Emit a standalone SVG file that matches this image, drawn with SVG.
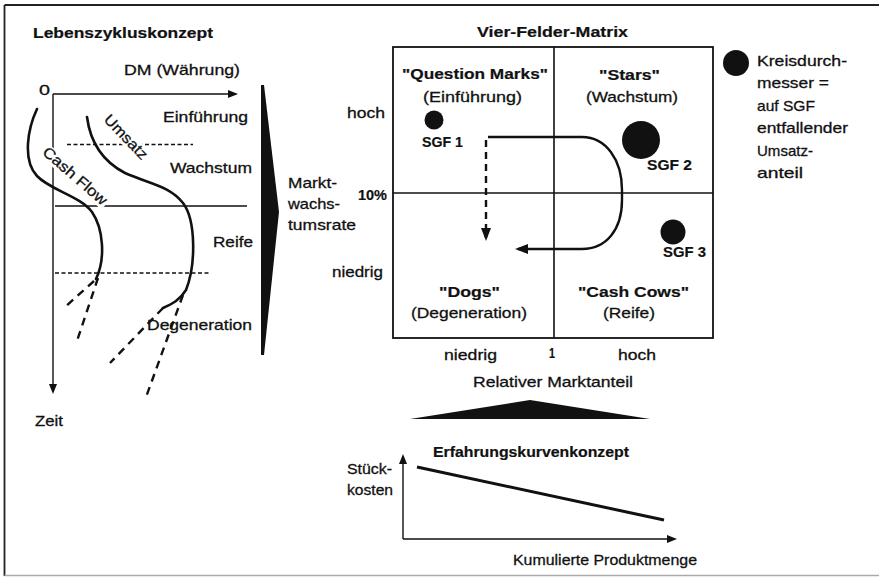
<svg xmlns="http://www.w3.org/2000/svg" width="879" height="578" viewBox="0 0 879 578">
<defs>
<style>
text{font-family:"Liberation Sans",Arial,Helvetica,sans-serif;font-size:15px;fill:#111;stroke:#111;stroke-width:0.3}
.b{font-weight:bold;stroke-width:0.2}
.ln{stroke:#111;fill:none;stroke-width:1.4}
.thin{stroke:#111;fill:none;stroke-width:1.3;stroke-dasharray:4 2.5}
.curve{stroke:#111;fill:none;stroke-width:2.6;stroke-linecap:round}
.ext{stroke:#111;fill:none;stroke-width:2.4;stroke-dasharray:8 6}
.mask{fill:#fff}
.dot{fill:#111}
</style>
<marker id="ah" markerUnits="userSpaceOnUse" markerWidth="10" markerHeight="8" refX="8" refY="4" orient="auto" viewBox="0 0 10 8">
<path d="M0,0 L10,4 L0,8 z" fill="#111"/>
</marker>
<marker id="ahL" markerUnits="userSpaceOnUse" markerWidth="13" markerHeight="10" refX="10" refY="5" orient="auto" viewBox="0 0 13 10">
<path d="M0,0 L13,5 L0,10 z" fill="#111"/>
</marker>
</defs>
<rect width="879" height="578" fill="#fff"/>
<g id="frame">
<line x1="4.5" y1="5" x2="879" y2="5" stroke="#222" stroke-width="1.8"/>
<line x1="4.5" y1="5" x2="4.5" y2="576" stroke="#222" stroke-width="1.8"/>
<line x1="4.5" y1="575.5" x2="879" y2="575.5" stroke="#aaa" stroke-width="1.4"/>
</g>

<g id="lebenszyklus">
<text class="b" x="33" y="38" textLength="180" lengthAdjust="spacingAndGlyphs">Lebenszykluskonzept</text>
<text x="124" y="75" textLength="116" lengthAdjust="spacingAndGlyphs">DM (Währung)</text>
<text x="39" y="95" textLength="11" lengthAdjust="spacingAndGlyphs">0</text>
<path class="ln" d="M53,94 H236" marker-end="url(#ah)"/>
<path class="ln" d="M53,94 V392" marker-end="url(#ah)"/>
<path class="thin" d="M67,144.5 H193"/>
<path class="ln" d="M55,206 H247"/>
<path class="thin" d="M55,273 H210"/>
<text x="163" y="122" textLength="85" lengthAdjust="spacingAndGlyphs">Einführung</text>
<text x="170" y="173" textLength="82" lengthAdjust="spacingAndGlyphs">Wachstum</text>
<text x="213" y="247" textLength="40" lengthAdjust="spacingAndGlyphs">Reife</text>
<text x="147" y="330" textLength="105" lengthAdjust="spacingAndGlyphs">Degeneration</text>
<text x="35" y="426" textLength="28" lengthAdjust="spacingAndGlyphs">Zeit</text>
<g transform="translate(126,137) rotate(46)">
<rect class="mask" x="-30" y="-7" width="60" height="15"/>
<text x="0" y="5" text-anchor="middle" textLength="56" lengthAdjust="spacingAndGlyphs">Umsatz</text>
</g>
<g transform="translate(75,176) rotate(41)">
<rect class="mask" x="-42" y="-7" width="84" height="15"/>
<text x="0" y="5" text-anchor="middle" textLength="80" lengthAdjust="spacingAndGlyphs">Cash Flow</text>
</g>
<path class="curve" d="M37,109 C28,128 22,160 37,176 C50,190 80,196 92,212 C103,228 106,258 96,279"/>
<path class="curve" d="M87,117 C90,140 100,160 125,173 C150,184 170,186 183,203 C196,220 196,265 186,290 C180,300 172,304 163,308"/>
<path class="ext" d="M94,281 L65,307"/>
<path class="ext" d="M98,278 L77,341"/>
<path class="ext" d="M163,308 L110,363"/>
<path class="ext" d="M183,295 L145,400"/>
</g>

<g id="wachstumsrate">
<text x="288" y="188" textLength="49" lengthAdjust="spacingAndGlyphs">Markt-</text>
<text x="288" y="209" textLength="52" lengthAdjust="spacingAndGlyphs">wachs-</text>
<text x="288" y="230" textLength="68" lengthAdjust="spacingAndGlyphs">tumsrate</text>
</g>

<g id="matrix">
<text class="b" x="477" y="37" textLength="151" lengthAdjust="spacingAndGlyphs">Vier-Felder-Matrix</text>
<rect x="393" y="47" width="320" height="291" fill="none" stroke="#111" stroke-width="1.8"/>
<line x1="554" y1="47" x2="554" y2="338" stroke="#111" stroke-width="1.6"/>
<line x1="393" y1="193" x2="713" y2="193" stroke="#111" stroke-width="1.6"/>
<text x="347" y="118" textLength="38" lengthAdjust="spacingAndGlyphs">hoch</text>
<text class="b" x="358" y="200" textLength="29" lengthAdjust="spacingAndGlyphs">10%</text>
<text x="332" y="277" textLength="51" lengthAdjust="spacingAndGlyphs">niedrig</text>
<text x="444" y="360" textLength="53" lengthAdjust="spacingAndGlyphs">niedrig</text>
<text class="b" x="549" y="358" font-size="12" textLength="6" lengthAdjust="spacingAndGlyphs">1</text>
<text x="618" y="360" textLength="38" lengthAdjust="spacingAndGlyphs">hoch</text>
<text x="473" y="387" textLength="160" lengthAdjust="spacingAndGlyphs">Relativer Marktanteil</text>
</g>

<g id="question-marks">
<text class="b" x="402" y="79" textLength="146" lengthAdjust="spacingAndGlyphs">"Question Marks"</text>
<text x="423" y="102" textLength="99" lengthAdjust="spacingAndGlyphs">(Einführung)</text>
</g>
<g id="stars">
<text class="b" x="599" y="80" textLength="61" lengthAdjust="spacingAndGlyphs">"Stars"</text>
<text x="586" y="102" textLength="92" lengthAdjust="spacingAndGlyphs">(Wachstum)</text>
</g>
<g id="dogs">
<text class="b" x="439" y="297" textLength="61" lengthAdjust="spacingAndGlyphs">"Dogs"</text>
<text x="411" y="318" textLength="116" lengthAdjust="spacingAndGlyphs">(Degeneration)</text>
</g>
<g id="cash-cows">
<text class="b" x="578" y="297" textLength="111" lengthAdjust="spacingAndGlyphs">"Cash Cows"</text>
<text x="603" y="318" textLength="52" lengthAdjust="spacingAndGlyphs">(Reife)</text>
</g>

<g id="sgf1">
<circle class="dot" cx="434" cy="120" r="9.5"/>
<text class="b" x="422" y="147" textLength="41" lengthAdjust="spacingAndGlyphs">SGF 1</text>
</g>
<g id="sgf2">
<circle class="dot" cx="641" cy="140" r="19"/>
<text class="b" x="647" y="170" textLength="45" lengthAdjust="spacingAndGlyphs">SGF 2</text>
</g>
<g id="sgf3">
<circle class="dot" cx="673" cy="232" r="12.5"/>
<text class="b" x="663" y="257" textLength="43" lengthAdjust="spacingAndGlyphs">SGF 3</text>
</g>

<g id="legend">
<circle class="dot" cx="736" cy="63" r="13"/>
<text x="757" y="66" textLength="90" lengthAdjust="spacingAndGlyphs">Kreisdurch-</text>
<text x="757" y="88" textLength="72" lengthAdjust="spacingAndGlyphs">messer =</text>
<text x="757" y="111" textLength="58" lengthAdjust="spacingAndGlyphs">auf SGF</text>
<text x="757" y="133" textLength="91" lengthAdjust="spacingAndGlyphs">entfallender</text>
<text x="757" y="156" textLength="56" lengthAdjust="spacingAndGlyphs">Umsatz-</text>
<text x="757" y="178" textLength="46" lengthAdjust="spacingAndGlyphs">anteil</text>
</g>

<g id="erfahrungskurve">
<text class="b" x="433" y="457" textLength="196" lengthAdjust="spacingAndGlyphs">Erfahrungskurvenkonzept</text>
<text x="347" y="474" textLength="45" lengthAdjust="spacingAndGlyphs">Stück-</text>
<text x="347" y="495" textLength="46" lengthAdjust="spacingAndGlyphs">kosten</text>
<text x="513" y="565" textLength="184" lengthAdjust="spacingAndGlyphs">Kumulierte Produktmenge</text>
<path class="ln" d="M403,539 V456" marker-end="url(#ah)"/>
<path class="ln" d="M403,539 H675" marker-end="url(#ah)"/>
<path d="M417,467 L664,520" stroke="#111" stroke-width="3" fill="none"/>
</g>

<g id="connectors">
<path d="M488,137 H582 C606,137 622,160 622,190 V200 C622,230 606,249 582,249 H518" fill="none" stroke="#111" stroke-width="2.4" marker-end="url(#ahL)"/>
<path d="M486,140 V238" fill="none" stroke="#111" stroke-width="2.4" stroke-dasharray="7 5" marker-end="url(#ahL)"/>
<polygon points="261,85 264,85 279,212 264,355 261,355" fill="#111"/>
<polygon points="410,419 530,400 650,419" fill="#111"/>
</g>
</svg>
